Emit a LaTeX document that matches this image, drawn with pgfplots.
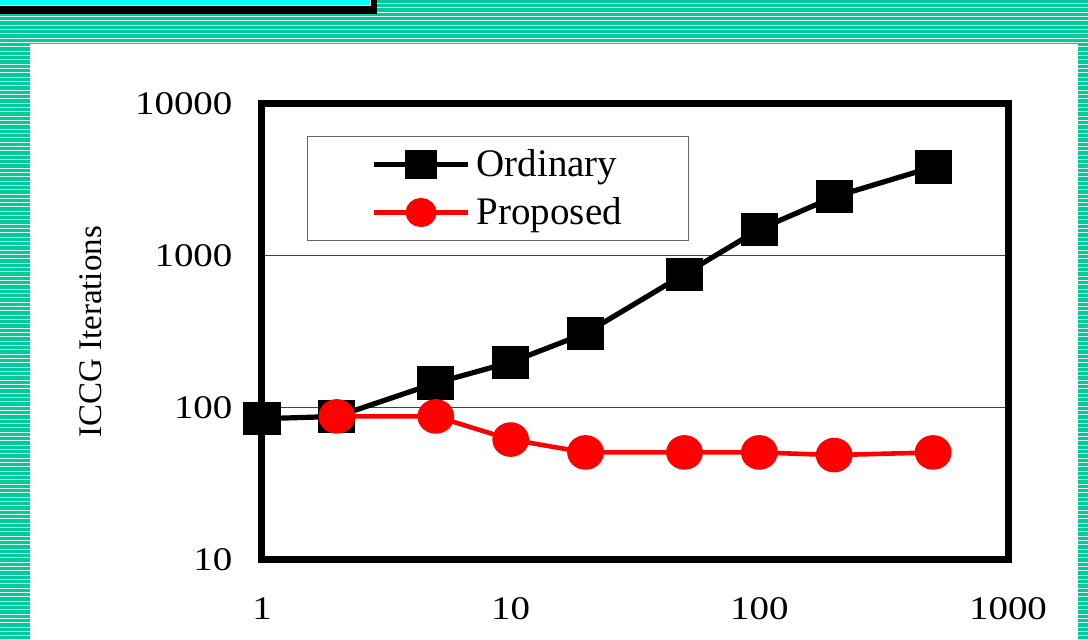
\documentclass[border=0pt]{standalone}
\usepackage{fontspec}
\setmainfont{Liberation Serif}
\usepackage{pgfplots}
\pgfplotsset{compat=1.18}
\definecolor{slideteal}{RGB}{0,204,153}
\definecolor{stripe}{RGB}{225,250,240}
\definecolor{titlecyan}{RGB}{0,255,255}
\definecolor{propred}{RGB}{255,0,0}
\begin{document}
\begin{tikzpicture}[x=0.5pt,y=0.5pt]
\useasboundingbox (0,0) rectangle (1088,640);
\clip (0,0) rectangle (1088,640);
% striped slide background
\fill[slideteal] (0,0) rectangle (1088,640);
\foreach \k in {0,...,148} {
  \fill[stripe] (0,{640-3.5-4.33*\k-0.5}) rectangle (1088,{640-3.5-4.33*\k+0.5});
}
% white content panel
\fill[white] (30,-5) rectangle (1078,596);
% title box edge
\fill[black] (-5,625.5) rectangle (377,650);
\fill[white] (-5,633.5) rectangle (370.5,650);
\fill[titlecyan] (-5,634.5) rectangle (369.5,650);

\begin{axis}[
  at={(131pt,40pt)}, anchor=south west,
  scale only axis, width=373pt, height=228pt,
  xmode=log, ymode=log,
  xmin=1, xmax=1000, ymin=10, ymax=10000,
  xtick={1,10,100,1000}, xticklabels={1,10,100,1000},
  ytick={10,100,1000,10000}, yticklabels={10,100,1000,10000},
  minor xtick={}, minor ytick={},
  major tick length=0pt, minor tick length=0pt,
  minor tick style={draw=none},
  ymajorgrids, major grid style={line width=0.5pt, black!75},
  axis line style={line width=3.5pt},
  tick label style={font=\fontsize{16.5}{18}\selectfont, xscale=1.18},
  xticklabel style={yshift=-15.5pt},
  yticklabel style={xshift=-9pt},
  ylabel={ICCG Iterations},
  ylabel style={at={(rel axis cs:-0.229,0.5)}, anchor=center,
    font=\fontsize{16.5}{18}\selectfont},
  clip=false,
  legend style={at={(rel axis cs:0.0603,0.930)}, anchor=north west,
    draw=black!60, line width=0.5pt, inner xsep=32pt, inner ysep=5pt,
    row sep=6pt, column sep=1.5pt, font=\fontsize{19.5}{21}\selectfont,
    nodes={inner sep=1.5pt}},
  legend cell align=left,
  legend image code/.code={\draw[mark repeat=2,mark phase=2,#1,
      every mark/.append style={scale=0.82}]
    plot coordinates {(0pt,0pt) (23.5pt,0pt) (47pt,0pt)};},
]
\addplot[black, line width=2.6pt, mark=square*,
  mark options={solid, xscale=1.14}, mark size=7pt]
  coordinates {(1,85) (2,88) (5,146) (10,200) (20,310) (50,760)
               (100,1500) (200,2450) (500,3850)};
\addlegendentry{Ordinary}
\addplot[propred, line width=2.3pt, mark=*,
  mark options={solid, xscale=1.07}, mark size=7.5pt]
  coordinates {(2,88) (5,88) (10,62) (20,51) (50,51)
               (100,51) (200,49) (500,51)};
\addlegendentry{Proposed}
\end{axis}
\end{tikzpicture}
\end{document}
